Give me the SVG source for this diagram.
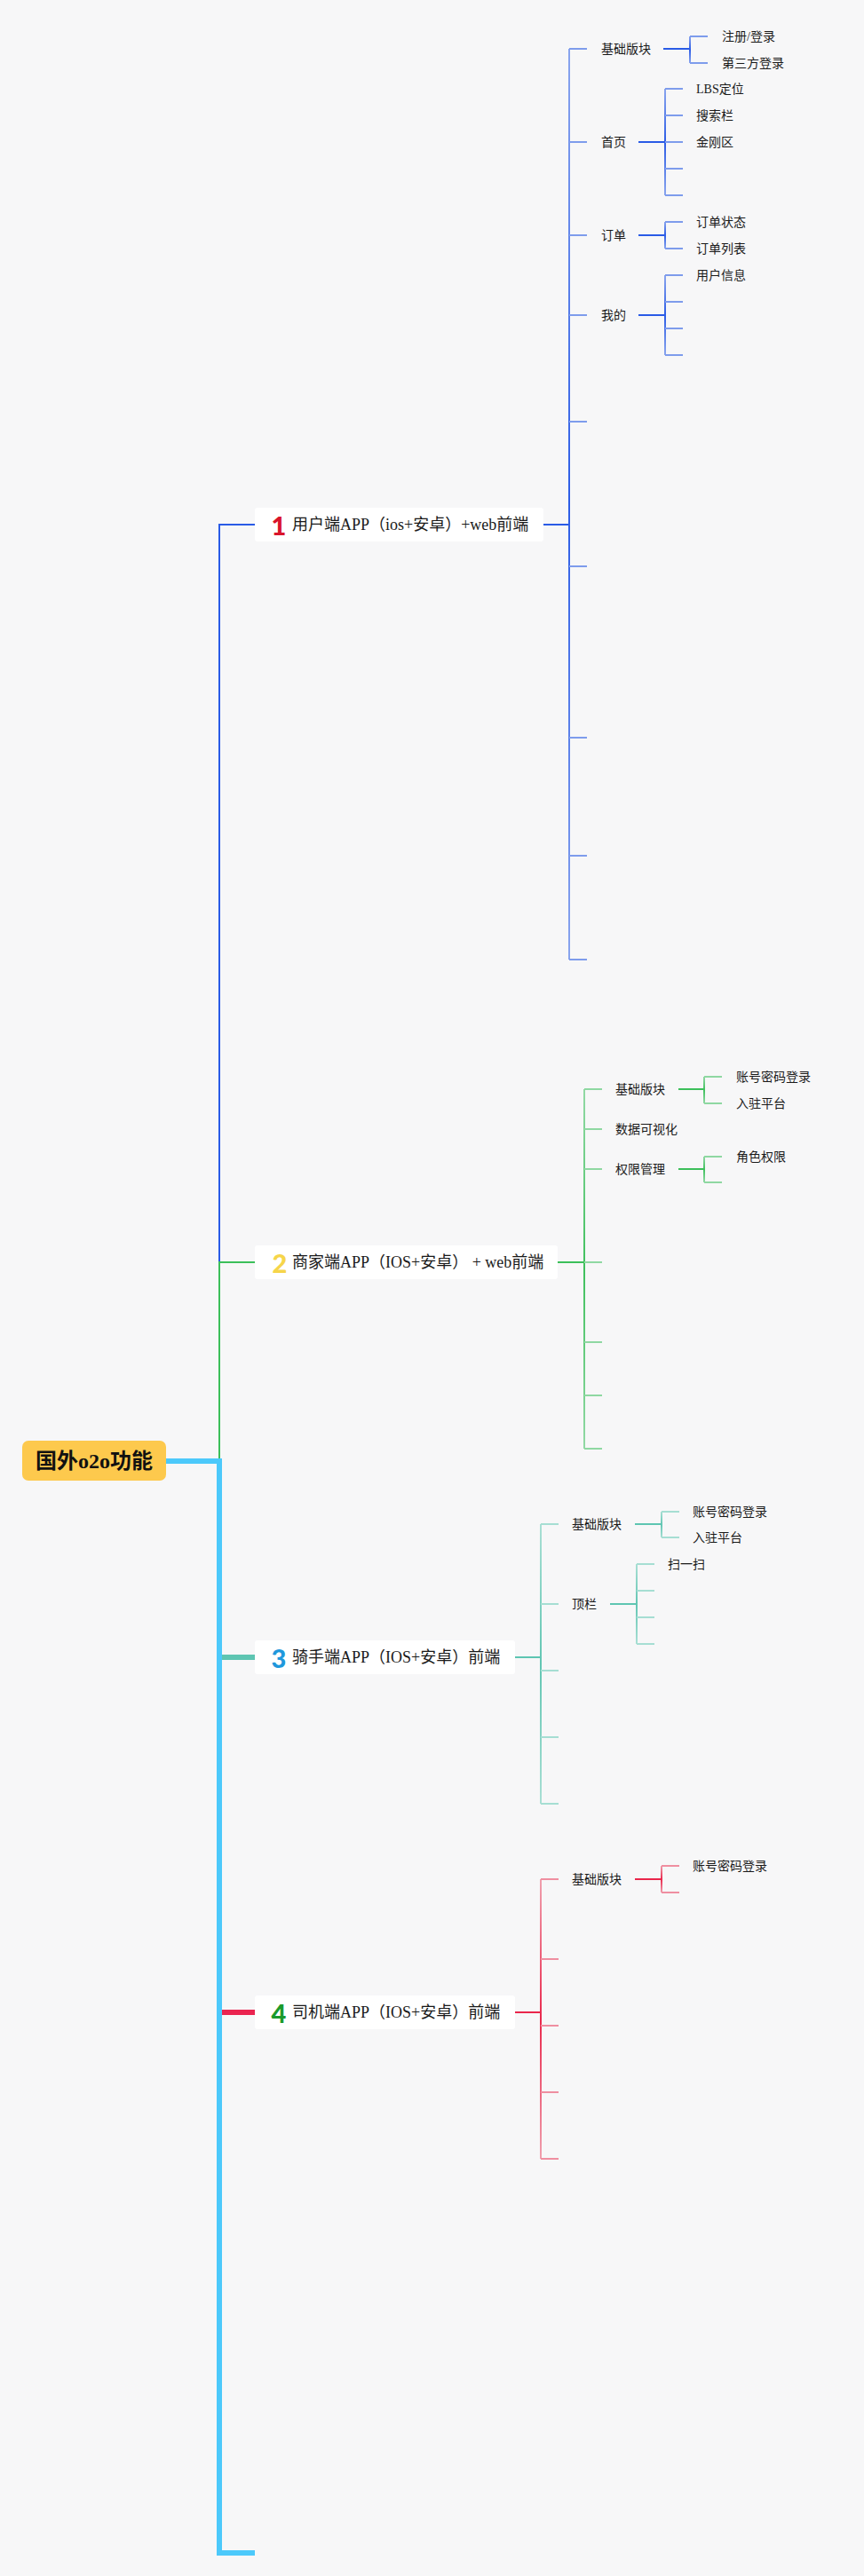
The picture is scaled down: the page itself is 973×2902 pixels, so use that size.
<svg xmlns="http://www.w3.org/2000/svg" width="973" height="2902" viewBox="0 0 973 2902">
<style>
.t{font-family:"Liberation Serif","Noto Sans CJK SC",serif;fill:#1a1a1a;dominant-baseline:central}
.h{font-size:18px}
.s{font-size:14px}
.root{font-size:24px;font-weight:bold;fill:#111}
.num{font-family:Lato,"Noto Sans",sans-serif;font-weight:900;font-size:29px;text-anchor:middle;dominant-baseline:central}
.box{fill:#ffffff}
.c{fill:none;stroke-width:2;stroke-linecap:butt}
.thick{fill:none;stroke-width:6}
.b1{stroke:#2a5be6}.b2{stroke:#7e9cec}
.g1{stroke:#3cbf5a}.g2{stroke:#8fd8a2}
.q1{stroke:#5ec5b2}.q2{stroke:#a6ded3}
.r1{stroke:#e9264b}.r2{stroke:#ef8fa1}
</style>
<defs>
<linearGradient id="gb" x1="0" y1="0" x2="0" y2="1"><stop offset="0" stop-color="#8aa5ee"/><stop offset="0.5" stop-color="#2d5de6"/><stop offset="1" stop-color="#8aa5ee"/></linearGradient>
<linearGradient id="gg" x1="0" y1="0" x2="0" y2="1"><stop offset="0" stop-color="#92d9a5"/><stop offset="0.5" stop-color="#3fc05d"/><stop offset="1" stop-color="#92d9a5"/></linearGradient>
<linearGradient id="gq" x1="0" y1="0" x2="0" y2="1"><stop offset="0" stop-color="#a9dfd4"/><stop offset="0.5" stop-color="#62c6b3"/><stop offset="1" stop-color="#a9dfd4"/></linearGradient>
<linearGradient id="gr" x1="0" y1="0" x2="0" y2="1"><stop offset="0" stop-color="#f0a0ae"/><stop offset="0.5" stop-color="#e9294d"/><stop offset="1" stop-color="#f0a0ae"/></linearGradient>
</defs>
<rect x="0" y="0" width="973" height="2902" fill="#f7f7f8"/>

<g id="connectors">
  <!-- level 1 -->
  <path class="c b1" d="M247 1646 V591 H287"/>
  <path class="c g1" d="M247 1646 V1422 H287"/>
  <path class="thick" stroke="#5ec5b2" d="M247 1867 H287"/>
  <path class="thick" stroke="#ea2450" d="M247 2267 H287"/>
  <path class="thick" stroke="#4cc9fb" d="M187 1646 H247 V2876 H287"/>

  <!-- branch 1 -->
  <path class="c b1" d="M612 591 H641"/>
  <rect x="640" y="55" width="2" height="1026" fill="url(#gb)"/>
  <path class="c b2" d="M641 55 H661 M641 160 H661 M641 265 H661 M641 355 H661 M641 475 H661 M641 638 H661 M641 831 H661 M641 964 H661 M641 1081 H661"/>
  <path class="c b1" d="M747 55 H777 M719 160 H749 M719 265 H749 M719 355 H749"/>
  <rect x="776" y="41" width="2" height="30" fill="url(#gb)"/>
  <rect x="748" y="100" width="2" height="120" fill="url(#gb)"/>
  <rect x="748" y="250" width="2" height="30" fill="url(#gb)"/>
  <rect x="748" y="310" width="2" height="90" fill="url(#gb)"/>
  <path class="c b2" d="M777 41 H797 M777 71 H797 M749 100 H769 M749 130 H769 M749 160 H769 M749 190 H769 M749 220 H769 M749 250 H769 M749 280 H769 M749 310 H769 M749 340 H769 M749 370 H769 M749 400 H769"/>

  <!-- branch 2 -->
  <path class="c g1" d="M628 1422 H658"/>
  <rect x="657" y="1227" width="2" height="405" fill="url(#gg)"/>
  <path class="c g2" d="M658 1227 H678 M658 1272 H678 M658 1317 H678 M658 1422 H678 M658 1512 H678 M658 1572 H678 M658 1632 H678"/>
  <path class="c g1" d="M764 1227 H793 M764 1317 H793"/>
  <rect x="792" y="1213" width="2" height="30" fill="url(#gg)"/>
  <rect x="792" y="1303" width="2" height="29" fill="url(#gg)"/>
  <path class="c g2" d="M793 1213 H813 M793 1243 H813 M793 1303 H813 M793 1332 H813"/>

  <!-- branch 3 -->
  <path class="c q1" d="M580 1867 H609"/>
  <rect x="608" y="1717" width="2" height="315" fill="url(#gq)"/>
  <path class="c q2" d="M609 1717 H629 M609 1807 H629 M609 1882 H629 M609 1957 H629 M609 2032 H629"/>
  <path class="c q1" d="M715 1717 H745 M687 1807 H717"/>
  <rect x="744" y="1703" width="2" height="29" fill="url(#gq)"/>
  <rect x="716" y="1762" width="2" height="90" fill="url(#gq)"/>
  <path class="c q2" d="M745 1703 H765 M745 1732 H765 M717 1762 H737 M717 1792 H737 M717 1822 H737 M717 1852 H737"/>

  <!-- branch 4 -->
  <path class="c r1" d="M580 2267 H609"/>
  <rect x="608" y="2117" width="2" height="315" fill="url(#gr)"/>
  <path class="c r2" d="M609 2117 H629 M609 2207 H629 M609 2282 H629 M609 2357 H629 M609 2432 H629"/>
  <path class="c r1" d="M715 2117 H745"/>
  <rect x="744" y="2102" width="2" height="30" fill="url(#gr)"/>
  <path class="c r2" d="M745 2102 H765 M745 2132 H765"/>
</g>

<g id="root">
  <rect x="25" y="1623" width="162" height="45" rx="7" fill="#fdc94d"/>
  <text class="t root" x="106" y="1646" text-anchor="middle">国外o2o功能</text>
</g>

<g id="n1">
  <rect class="box" x="287" y="572" width="325" height="38" rx="3"/>
  <text class="num" x="314" y="591" fill="#d9142b">1</text>
  <text class="t h" x="329" y="591">用户端APP（ios+安卓）+web前端</text>
</g>
<g id="n1-1"><text class="t s" x="677" y="55">基础版块</text></g>
<g id="n1-1-1"><text class="t s" x="813" y="41">注册/登录</text></g>
<g id="n1-1-2"><text class="t s" x="813" y="71">第三方登录</text></g>
<g id="n1-2"><text class="t s" x="677" y="160">首页</text></g>
<g id="n1-2-1"><text class="t s" x="784" y="100">LBS定位</text></g>
<g id="n1-2-2"><text class="t s" x="784" y="130">搜索栏</text></g>
<g id="n1-2-3"><text class="t s" x="784" y="160">金刚区</text></g>
<g id="n1-3"><text class="t s" x="677" y="265">订单</text></g>
<g id="n1-3-1"><text class="t s" x="784" y="250">订单状态</text></g>
<g id="n1-3-2"><text class="t s" x="784" y="280">订单列表</text></g>
<g id="n1-4"><text class="t s" x="677" y="355">我的</text></g>
<g id="n1-4-1"><text class="t s" x="784" y="310">用户信息</text></g>

<g id="n2">
  <rect class="box" x="287" y="1403" width="341" height="38" rx="3"/>
  <text class="num" x="315" y="1422" fill="#f6d54a">2</text>
  <text class="t h" x="329" y="1422">商家端APP（IOS+安卓） + web前端</text>
</g>
<g id="n2-1"><text class="t s" x="693" y="1227">基础版块</text></g>
<g id="n2-1-1"><text class="t s" x="829" y="1213">账号密码登录</text></g>
<g id="n2-1-2"><text class="t s" x="829" y="1243">入驻平台</text></g>
<g id="n2-2"><text class="t s" x="693" y="1272">数据可视化</text></g>
<g id="n2-3"><text class="t s" x="693" y="1317">权限管理</text></g>
<g id="n2-3-1"><text class="t s" x="829" y="1303">角色权限</text></g>

<g id="n3">
  <rect class="box" x="287" y="1848" width="293" height="38" rx="3"/>
  <text class="num" x="314" y="1867" fill="#1f98dc">3</text>
  <text class="t h" x="329" y="1867">骑手端APP（IOS+安卓）前端</text>
</g>
<g id="n3-1"><text class="t s" x="644" y="1717">基础版块</text></g>
<g id="n3-1-1"><text class="t s" x="780" y="1703">账号密码登录</text></g>
<g id="n3-1-2"><text class="t s" x="780" y="1732">入驻平台</text></g>
<g id="n3-2"><text class="t s" x="644" y="1807">顶栏</text></g>
<g id="n3-2-1"><text class="t s" x="752" y="1762">扫一扫</text></g>

<g id="n4">
  <rect class="box" x="287" y="2248" width="293" height="38" rx="3"/>
  <text class="num" x="314" y="2267" fill="#1a9a2c">4</text>
  <text class="t h" x="329" y="2267">司机端APP（IOS+安卓）前端</text>
</g>
<g id="n4-1"><text class="t s" x="644" y="2117">基础版块</text></g>
<g id="n4-1-1"><text class="t s" x="780" y="2102">账号密码登录</text></g>
</svg>
